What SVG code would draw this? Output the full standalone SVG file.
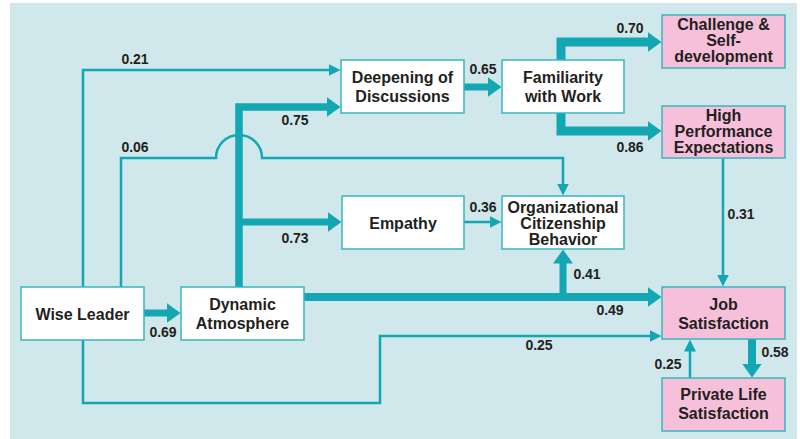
<svg xmlns="http://www.w3.org/2000/svg" width="800" height="439" viewBox="0 0 800 439">
<style>
.node rect{stroke:#3ab5bf;stroke-width:1.5}
.w rect{fill:#ffffff}
.p rect{fill:#f6c0da}
text{font-family:"Liberation Sans",Arial,Helvetica,sans-serif;font-weight:bold;fill:#231f20;text-anchor:middle}
.nt{font-size:16px}
.lb{font-size:14px}
.c path{fill:none;stroke:#13a7b3}
.thin{stroke-width:2.5}
</style>
<defs>
<marker id="ah" viewBox="0 0 12 12" markerWidth="12" markerHeight="12" refX="0.5" refY="6" orient="auto" markerUnits="userSpaceOnUse"><path d="M0,0 L12,6 L0,12 z" fill="#13a7b3"/></marker>
<marker id="ahT" viewBox="0 0 14 20" markerWidth="14" markerHeight="20" refX="0.5" refY="10" orient="auto" markerUnits="userSpaceOnUse"><path d="M0,0 L14,10 L0,20 z" fill="#13a7b3"/></marker>
</defs>
<rect x="0" y="0" width="800" height="439" fill="#ffffff"/>
<rect x="10" y="3" width="787" height="436" fill="#d0e7eb"/>
<g id="connectors" class="c">
<path class="thin" d="M83,287 V70 H329" marker-end="url(#ah)"/>
<path class="thin" d="M121,287 V158 H216 A23,23 0 0 1 262,158 H563 V184" marker-end="url(#ah)"/>
<path d="M239,287 V107 H327" stroke-width="7.5" marker-end="url(#ahT)"/>
<path d="M239,222 H328" stroke-width="7" marker-end="url(#ahT)"/>
<path d="M304,297 H648" stroke-width="8" marker-end="url(#ahT)"/>
<path d="M563,297 V263" stroke-width="7" marker-end="url(#ahT)"/>
<path class="thin" d="M464,222 H490" marker-end="url(#ah)"/>
<path d="M464,87 H488" stroke-width="7" marker-end="url(#ahT)"/>
<path d="M561,60 V42 H648" stroke-width="9" marker-end="url(#ahT)"/>
<path d="M561,113 V131 H648" stroke-width="9" marker-end="url(#ahT)"/>
<path class="thin" d="M723,158 V275" marker-end="url(#ah)"/>
<path class="thin" d="M83,340 V403 H380 V336 H650" marker-end="url(#ah)"/>
<path d="M752,339 V364" stroke-width="8" marker-end="url(#ahT)"/>
<path class="thin" d="M690,378 V351" marker-end="url(#ah)"/>
<path d="M144,313 H167" stroke-width="7" marker-end="url(#ahT)"/>
</g>
<g id="labels" class="lb">
<text class="lb" x="135" y="64">0.21</text>
<text class="lb" x="295" y="125">0.75</text>
<text class="lb" x="135" y="152">0.06</text>
<text class="lb" x="483" y="74">0.65</text>
<text class="lb" x="630" y="33">0.70</text>
<text class="lb" x="630" y="152">0.86</text>
<text class="lb" x="741" y="219">0.31</text>
<text class="lb" x="483" y="212">0.36</text>
<text class="lb" x="295" y="243">0.73</text>
<text class="lb" x="587" y="279">0.41</text>
<text class="lb" x="610" y="315">0.49</text>
<text class="lb" x="539" y="350">0.25</text>
<text class="lb" x="775" y="357">0.58</text>
<text class="lb" x="668" y="369">0.25</text>
<text class="lb" x="163" y="337">0.69</text>
</g>
<g id="wise-leader" class="node w"><rect x="21" y="287" width="123" height="53"/><text class="nt" x="82.5" y="320">Wise Leader</text></g>
<g id="dynamic-atmosphere" class="node w"><rect x="181" y="287" width="123" height="53"/><text class="nt" x="242.5" y="310">Dynamic</text><text class="nt" x="242.5" y="329">Atmosphere</text></g>
<g id="deepening" class="node w"><rect x="341" y="60" width="123" height="53"/><text class="nt" x="402.5" y="83">Deepening of</text><text class="nt" x="402.5" y="102">Discussions</text></g>
<g id="familiarity" class="node w"><rect x="502" y="60" width="122" height="53"/><text class="nt" x="563" y="83">Familiarity</text><text class="nt" x="563" y="102">with Work</text></g>
<g id="challenge" class="node p"><rect x="662" y="15" width="123" height="53"/><text class="nt" x="723.5" y="30">Challenge &amp;</text><text class="nt" x="723.5" y="46">Self-</text><text class="nt" x="723.5" y="62">development</text></g>
<g id="high-performance" class="node p"><rect x="662" y="106" width="123" height="52"/><text class="nt" x="723.5" y="121">High</text><text class="nt" x="723.5" y="137">Performance</text><text class="nt" x="723.5" y="153">Expectations</text></g>
<g id="empathy" class="node w"><rect x="342" y="196" width="122" height="53"/><text class="nt" x="403" y="229">Empathy</text></g>
<g id="ocb" class="node w"><rect x="502" y="196" width="122" height="53"/><text class="nt" x="563" y="213">Organizational</text><text class="nt" x="563" y="229">Citizenship</text><text class="nt" x="563" y="245">Behavior</text></g>
<g id="job-satisfaction" class="node p"><rect x="662" y="287" width="123" height="52"/><text class="nt" x="723.5" y="310">Job</text><text class="nt" x="723.5" y="329">Satisfaction</text></g>
<g id="private-life" class="node p"><rect x="662" y="378" width="123" height="53"/><text class="nt" x="723.5" y="400">Private Life</text><text class="nt" x="723.5" y="419">Satisfaction</text></g>
</svg>
